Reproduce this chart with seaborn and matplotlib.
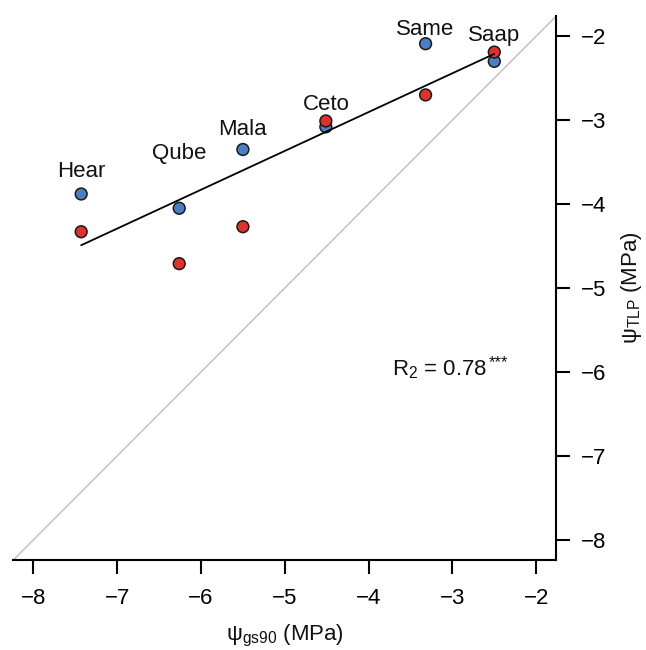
import matplotlib
matplotlib.use("Agg")
import matplotlib.pyplot as plt
import seaborn as sns
import numpy as np
import pandas as pd

# ---- data ----
species = ["Hear", "Qube", "Mala", "Ceto", "Same", "Saap"]
psi_gs90 = [-7.43, -6.26, -5.50, -4.51, -3.32, -2.50]
psi_tlp_blue = [-3.88, -4.05, -3.35, -3.08, -2.09, -2.30]
psi_tlp_red = [-4.33, -4.71, -4.27, -3.01, -2.70, -2.19]
label_y = [-3.61, -3.40, -3.11, -2.81, -1.92, -1.99]
x_ticks = [-8, -7, -6, -5, -4, -3, -2]
y_ticks = [-8, -7, -6, -5, -4, -3, -2]
r2_main = r"R$_2$ = 0.78"
r2_stars = "***"

sns.set_theme(style="white")
plt.rcParams["font.family"] = ["Liberation Sans", "DejaVu Sans"]
plt.rcParams["mathtext.fontset"] = "custom"
plt.rcParams["mathtext.rm"] = "Liberation Sans"
plt.rcParams["mathtext.it"] = "Liberation Sans:italic"
plt.rcParams["mathtext.bf"] = "Liberation Sans:bold"

df = pd.concat([
    pd.DataFrame({"x": psi_gs90, "y": psi_tlp_blue, "s": "blue"}),
    pd.DataFrame({"x": psi_gs90, "y": psi_tlp_red, "s": "red"}),
], ignore_index=True)

fig = plt.figure(figsize=(6.46, 6.5), dpi=100)
ax = fig.add_axes([13.3 / 646, 1 - 560 / 650, 543 / 646, 544 / 650])

lo, hi = -8.24, -1.76
ax.plot([lo, hi], [lo, hi], color="#BEBEBE", lw=1.0, zorder=1)

sns.scatterplot(data=df, x="x", y="y", hue="s",
                palette={"blue": "#4A7FC3", "red": "#E1312B"},
                s=72, edgecolor="#1a1a1a", linewidth=1.1, legend=False,
                ax=ax, zorder=3)
sns.regplot(data=df, x="x", y="y", scatter=False, ci=None, truncate=True,
            color="black", line_kws={"lw": 1.3, "zorder": 4}, ax=ax)

for name, xv, yv in zip(species, psi_gs90, label_y):
    ax.text(xv, yv, name, ha="center", va="center", fontsize=16, color="#111111")

t = ax.text(-3.72, -5.97, r2_main, ha="left", va="center", fontsize=16, color="#111111")
ax.annotate(r2_stars, xy=(1.0, 0.80), xycoords=t, xytext=(1, 0),
            textcoords="offset points", ha="left", va="center",
            fontsize=12, color="#111111")

ax.set_xlim(lo, hi)
ax.set_ylim(lo, hi)
ax.set_xticks(x_ticks)
ax.set_yticks(y_ticks)
ax.set_xticklabels([f"\u2212{abs(v)}" for v in x_ticks])
ax.set_yticklabels([f"\u2212{abs(v)}" for v in y_ticks])
ax.yaxis.tick_right()
ax.yaxis.set_label_position("right")

for sp in ["left", "top"]:
    ax.spines[sp].set_visible(False)
for sp in ["bottom", "right"]:
    ax.spines[sp].set_visible(True)
    ax.spines[sp].set_color("black")
    ax.spines[sp].set_linewidth(1.5)

ax.tick_params(axis="x", bottom=True, direction="out", length=10, width=1.5,
               pad=10, labelsize=16, colors="black")
ax.tick_params(axis="y", right=True, left=False, direction="out", length=10,
               width=1.5, pad=8, labelsize=16, colors="black")

ax.set_xlabel("\u03c8$_{\\mathregular{gs90}}$ (MPa)", fontsize=16, labelpad=10, color="#111111")
ax.set_ylabel("\u03c8$_{\\mathregular{TLP}}$ (MPa)", fontsize=16, labelpad=9, color="#111111")

fig.savefig("out.png", dpi=100, facecolor="white")
